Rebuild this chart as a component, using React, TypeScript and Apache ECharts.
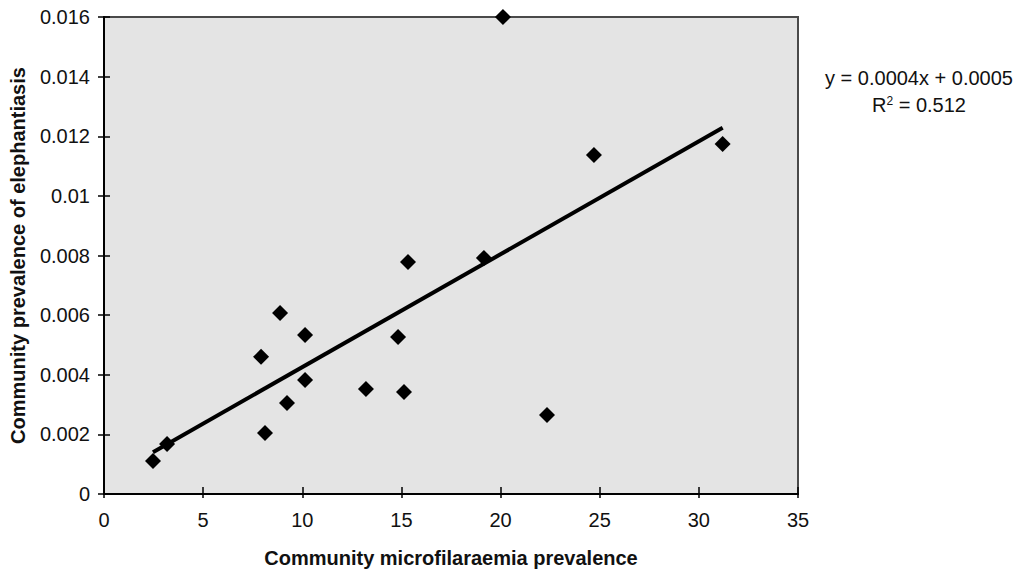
import React, { useEffect, useRef } from "react";
import * as echarts from "echarts";

// Community microfilaraemia prevalence (%) per community
const mfPrevalence = [
  2.47, 3.18, 8.12, 7.92, 8.88, 9.23, 10.14, 10.14, 13.21, 14.83, 15.13, 15.33,
  19.16, 20.12, 22.34, 24.71, 31.2,
];
// Community prevalence of elephantiasis per community
const elephantiasis = [
  0.00111, 0.00168, 0.00205, 0.0046, 0.00607, 0.00305, 0.00533, 0.00382,
  0.00352, 0.00527, 0.00342, 0.00778, 0.00792, 0.016, 0.00265, 0.01137,
  0.01174,
];

const equationText = "y = 0.0004x + 0.0005";
const rSquaredText = "R{sup|2} = 0.512";

const xTitle = "Community microfilaraemia prevalence";
const yTitle = "Community prevalence of elephantiasis";

// Least-squares fit through the points, drawn over the data range
function linearFit(xs: number[], ys: number[]) {
  const n = xs.length;
  const mx = xs.reduce((a, b) => a + b, 0) / n;
  const my = ys.reduce((a, b) => a + b, 0) / n;
  let sxy = 0;
  let sxx = 0;
  for (let i = 0; i < n; i++) {
    sxy += (xs[i] - mx) * (ys[i] - my);
    sxx += (xs[i] - mx) * (xs[i] - mx);
  }
  const slope = sxy / sxx;
  return { slope, intercept: my - slope * mx };
}

const FONT = "'Liberation Sans', Arial, Helvetica, sans-serif";
const FS = 20;

export default function App() {
  const ref = useRef<HTMLDivElement>(null);

  useEffect(() => {
    if (!ref.current) return;
    const chart = echarts.init(ref.current, undefined, { renderer: "svg" });

    const { slope, intercept } = linearFit(mfPrevalence, elephantiasis);
    const xMin = Math.min(...mfPrevalence);
    const xMax = Math.max(...mfPrevalence);
    const trend = [
      [xMin, slope * xMin + intercept],
      [xMax, slope * xMax + intercept],
    ];
    const points = mfPrevalence.map((x, i) => [x, elephantiasis[i]]);

    const xBase = { type: "value", min: 0, max: 35, interval: 5 };
    const yBase = { type: "value", min: 0, max: 0.016, interval: 0.002 };

    chart.setOption({
      animation: false,
      backgroundColor: "#ffffff",
      grid: {
        left: 104,
        right: 226,
        top: 17,
        bottom: 80,
        show: true,
        backgroundColor: "#e4e4e4",
        borderColor: "#4a4a4a",
        borderWidth: 2,
      },
      xAxis: [
        {
          ...xBase,
          name: xTitle,
          nameLocation: "middle",
          nameGap: 54,
          nameTextStyle: {
            fontFamily: FONT,
            fontSize: FS,
            fontWeight: "bold",
            color: "#111",
          },
          axisLine: { show: true, lineStyle: { color: "#000", width: 2 } },
          axisTick: { show: true, inside: false, length: 4, lineStyle: { color: "#000", width: 1.5 } },
          axisLabel: { margin: 16, fontFamily: FONT, fontSize: FS, color: "#111" },
          splitLine: { show: false },
        },
        {
          ...xBase,
          position: "bottom",
          axisLine: { show: false },
          axisTick: { show: true, inside: true, length: 7, lineStyle: { color: "#000", width: 1.5 } },
          axisLabel: { show: false },
          splitLine: { show: false },
        },
      ],
      yAxis: [
        {
          ...yBase,
          name: yTitle,
          nameLocation: "middle",
          nameGap: 76,
          nameTextStyle: {
            fontFamily: FONT,
            fontSize: FS,
            fontWeight: "bold",
            color: "#111",
          },
          axisLine: { show: true, lineStyle: { color: "#000", width: 2 } },
          axisTick: { show: true, inside: false, length: 6, lineStyle: { color: "#000", width: 1.5 } },
          axisLabel: { margin: 14, fontFamily: FONT, fontSize: FS, color: "#111" },
          splitLine: { show: false },
        },
        {
          ...yBase,
          position: "left",
          axisLine: { show: false },
          axisTick: { show: true, inside: true, length: 6, lineStyle: { color: "#000", width: 1.5 } },
          axisLabel: { show: false },
          splitLine: { show: false },
        },
      ],
      graphic: [
        {
          type: "text",
          x: 919,
          y: 78,
          style: {
            text: equationText,
            fontFamily: FONT,
            fontSize: FS,
            fill: "#111",
            align: "center",
            verticalAlign: "middle",
          },
        },
        {
          type: "text",
          x: 919,
          y: 105,
          style: {
            text: rSquaredText,
            fontFamily: FONT,
            fontSize: FS,
            fill: "#111",
            align: "center",
            verticalAlign: "middle",
            rich: {
              sup: { fontFamily: FONT, fontSize: 12, verticalAlign: "top", padding: [0, 0, 9, 0] },
            },
          },
        },
      ],
      series: [
        {
          type: "line",
          data: trend,
          xAxisIndex: 0,
          yAxisIndex: 0,
          symbol: "none",
          lineStyle: { color: "#000", width: 4 },
          z: 2,
        },
        {
          type: "scatter",
          data: points,
          xAxisIndex: 0,
          yAxisIndex: 0,
          symbol: "diamond",
          symbolSize: 16,
          clip: false,
          itemStyle: { color: "#000", opacity: 1 },
          z: 3,
        },
      ],
    });

    return () => chart.dispose();
  }, []);

  return (
    <div
      ref={ref}
      style={{ width: 1024, height: 574, position: "absolute", left: 0, top: 0 }}
    />
  );
}
